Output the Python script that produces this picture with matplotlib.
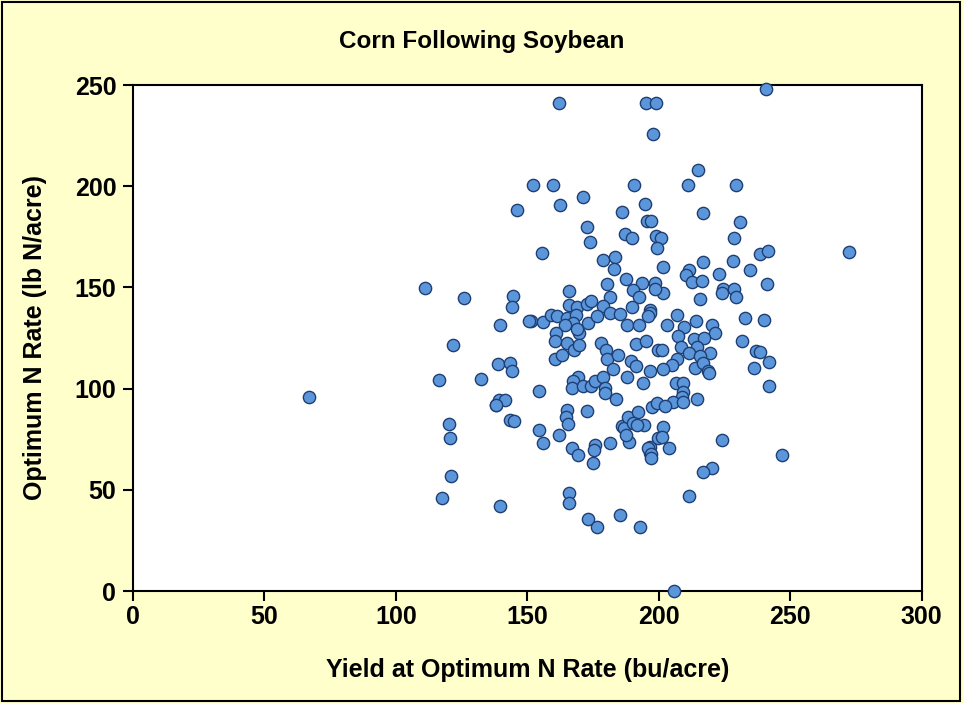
#!/usr/bin/env python3
"""
Scatter of economic optimum N rate against yield at that rate,
corn following soybean.
"""

import matplotlib.pyplot as plt
from matplotlib.patches import Rectangle

# yield at optimum N rate (bu/acre) and optimum N rate (lb N/acre)
yield_bu = [
    66.9, 111.0, 125.9, 116.3, 121.7, 120.2, 120.6, 121.0, 117.5, 139.5,
    139.5, 138.8, 132.4, 138.0, 144.5, 144.0, 143.3, 144.0, 143.3, 144.8,
    146.0, 162.0, 195.0, 199.0, 197.7, 240.7, 152.0, 159.7, 190.5, 211.0,
    229.3, 215.0, 171.0, 162.4, 194.7, 186.0, 216.7, 195.4, 197.0, 230.8,
    172.6, 187.0, 189.7, 198.9, 201.0, 174.0, 228.5, 199.2, 155.5, 238.4,
    241.4, 178.7, 183.3, 216.7, 228.1, 201.5, 211.4, 210.3, 222.8, 234.6,
    212.5, 216.3, 241.0, 224.3, 224.0, 228.5, 229.3, 201.5, 215.6, 182.9,
    180.2, 187.5, 193.5, 190.1, 192.4, 198.5, 198.5, 165.8, 181.4, 165.8,
    168.8, 172.6, 174.1, 178.7, 190.0, 196.6, 151.3, 155.9, 158.9, 161.2,
    165.0, 168.4, 167.3, 164.3, 181.4, 185.2, 196.6, 195.8, 187.8, 192.4,
    173.0, 176.4, 160.8, 160.5, 169.6, 168.8, 165.0, 167.7, 169.6, 160.5,
    163.1, 177.9, 179.8, 180.2, 184.4, 182.5, 191.3, 195.0, 189.4, 191.3,
    196.6, 187.8, 193.9, 199.6, 169.2, 167.3, 166.9, 171.1, 174.1, 175.7,
    178.7, 179.5, 179.5, 183.7, 154.4, 165.0, 164.6, 165.4, 172.6, 154.4,
    155.9, 162.0, 166.9, 169.2, 175.7, 175.3, 181.4, 174.9, 188.6, 185.9,
    186.7, 188.2, 192.0, 194.3, 187.5, 190.1, 191.6, 197.3, 199.2, 196.6,
    196.6, 199.6, 206.8, 203.0, 209.5, 214.0, 220.2, 221.3, 232.7, 240.0,
    207.2, 213.3, 217.1, 208.4, 214.4, 211.4, 219.4, 215.6, 201.1, 206.8,
    204.9, 201.5, 213.7, 216.7, 218.6, 219.0, 231.6, 236.9, 238.4, 241.8,
    236.1, 241.8, 206.5, 209.1, 209.1, 208.7, 205.3, 202.3, 209.1, 214.4,
    201.5, 201.1, 203.8, 224.0, 246.8, 220.2, 216.7, 195.8, 196.9, 196.9,
    211.4, 165.8, 165.8, 173.0, 176.4, 185.2, 192.8, 205.7, 150.6, 139.2,
    141.4, 138.0, 272.2,
]
opt_n = [
    95.8, 149.7, 144.8, 104.2, 121.5, 82.5, 75.6, 56.8, 45.9, 42.0,
    131.4, 112.2, 104.7, 91.9, 145.7, 140.3, 112.6, 108.7, 84.5, 84.0,
    188.2, 241.0, 241.0, 241.0, 226.0, 248.0, 200.6, 200.6, 200.6, 200.6,
    200.6, 208.0, 194.7, 190.7, 191.2, 187.3, 186.8, 182.8, 182.8, 182.3,
    179.8, 176.4, 174.4, 175.4, 174.4, 172.4, 174.4, 169.5, 167.0, 166.5,
    168.0, 163.5, 165.0, 162.5, 163.0, 160.0, 158.6, 156.0, 156.6, 158.6,
    152.7, 153.2, 151.7, 149.2, 147.2, 149.2, 145.3, 147.2, 144.3, 159.0,
    151.7, 154.2, 152.2, 148.7, 145.3, 152.2, 149.2, 148.2, 145.3, 141.3,
    140.3, 141.8, 143.3, 140.8, 140.3, 138.8, 133.4, 132.9, 136.4, 135.9,
    134.9, 136.4, 132.4, 131.4, 137.4, 136.9, 137.4, 135.9, 131.4, 131.4,
    132.4, 135.9, 127.5, 123.5, 127.5, 129.4, 122.5, 119.1, 121.5, 114.6,
    116.6, 122.5, 119.1, 114.6, 116.6, 109.7, 122.0, 123.5, 113.6, 111.2,
    108.7, 105.7, 102.8, 119.1, 105.7, 103.8, 100.3, 101.3, 101.3, 103.8,
    105.7, 100.3, 97.8, 94.9, 98.8, 89.4, 86.0, 82.5, 88.9, 79.5,
    73.1, 77.1, 70.7, 67.2, 72.1, 69.7, 73.1, 63.2, 73.6, 81.5,
    80.5, 86.0, 88.4, 82.0, 77.1, 83.0, 82.0, 90.9, 92.9, 71.1,
    68.2, 75.6, 136.4, 131.4, 130.4, 133.4, 131.4, 127.5, 134.9, 133.9,
    126.0, 124.5, 125.0, 120.6, 120.6, 117.6, 117.6, 116.1, 119.1, 114.6,
    111.7, 109.7, 110.2, 112.6, 108.7, 107.7, 123.5, 118.6, 118.1, 113.1,
    110.2, 101.3, 102.8, 102.8, 98.3, 95.8, 93.4, 91.4, 93.4, 94.9,
    81.0, 76.1, 70.7, 74.6, 67.2, 60.8, 58.8, 70.7, 67.7, 65.7,
    46.9, 48.4, 43.5, 35.6, 31.6, 37.5, 31.6, 0.0, 133.4, 94.4,
    94.4, 91.9, 167.5,
]

title = 'Corn Following Soybean'
x_label = 'Yield at Optimum N Rate (bu/acre)'
y_label = 'Optimum N Rate (lb N/acre)'
x_ticks = [0, 50, 100, 150, 200, 250, 300]
y_ticks = [0, 50, 100, 150, 200, 250]

bg_yellow = '#FFFFCC'
dot_face = '#5B96DB'
dot_edge = '#1F3F73'

plt.rcParams['font.family'] = ['Liberation Sans', 'DejaVu Sans']
plt.rcParams['font.weight'] = 'bold'

fig = plt.figure(figsize=(9.64, 7.03), dpi=100)
fig.patch.set_facecolor(bg_yellow)
# thin black frame round the whole chart
fig.patches.append(Rectangle((0.002, 0.003), 0.994, 0.994, transform=fig.transFigure,
                             fill=False, edgecolor='black', linewidth=1.5))

ax = fig.add_axes([0.138, 0.1593, 0.818, 0.7197])
ax.set_facecolor('white')

ax.scatter(yield_bu, opt_n, s=78, c=dot_face, edgecolors=dot_edge,
           linewidths=1.0, zorder=3, clip_on=False)

ax.set_xlim(0, 300)
ax.set_ylim(0, 250)
ax.set_xticks(x_ticks)
ax.set_yticks(y_ticks)
ax.tick_params(direction='out', length=7, width=1.5, labelsize=18, pad=5)
ax.tick_params(axis='x', pad=3)
for lbl in ax.get_xticklabels() + ax.get_yticklabels():
    lbl.set_fontweight('bold')
for side in ax.spines.values():
    side.set_linewidth(1.5)
    side.set_color('black')

fig.text(0.5, 0.941, title, ha='center', va='center', fontsize=17.5, fontweight='bold')
fig.text(0.547, 0.047, x_label, ha='center', va='center', fontsize=18, fontweight='bold')
fig.text(0.036, 0.52, y_label, ha='center', va='center', rotation=90,
         fontsize=18, fontweight='bold')

plt.savefig('out.png', dpi=100, facecolor=fig.get_facecolor())
